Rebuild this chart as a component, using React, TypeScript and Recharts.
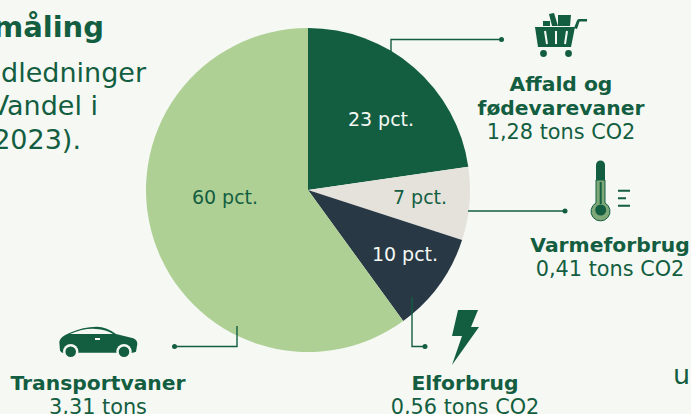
import { PieChart, Pie, Cell } from "recharts";

const categories = ["Affald og fødevarevaner", "Varmeforbrug", "Elforbrug", "Transportvaner"];
// shares, in percent
const shares = [22.7, 7.3, 10, 60];
const pctLabels = ["23 pct.", "7 pct.", "10 pct.", "60 pct."];

const COLORS = ["#135e41", "#e5e2dc", "#283845", "#afd095"];
const LABEL_COLORS = ["#f6f9f3", "#135e41", "#f6f9f3", "#135e41"];
const LABEL_POINTS = [
  [381, 119],
  [420, 197],
  [405, 254],
  [225, 197],
];

const GREEN = "#135e41";
const PAPER = "#f6f9f3";
const FONT = "'DejaVu Sans', Verdana, sans-serif";

const chartData = categories.map((name, i) => ({ name, value: shares[i] }));

const renderLabel = (props: { index?: number }) => {
  const i = props.index ?? 0;
  return (
    <text
      x={LABEL_POINTS[i][0]}
      y={LABEL_POINTS[i][1]}
      fill={LABEL_COLORS[i]}
      textAnchor="middle"
      dominantBaseline="central"
      fontSize={19}
      fontFamily={FONT}
    >
      {pctLabels[i]}
    </text>
  );
};

function Caption({ x, y, lines }: { x: number; y: number; lines: [string, boolean][] }) {
  return (
    <>
      {lines.map(([line, bold], i) => (
        <text
          key={line}
          x={x}
          y={y + i * 24}
          textAnchor="middle"
          fontSize={bold ? 20.3 : 20.8}
          fontWeight={bold ? 700 : 400}
          fill={GREEN}
          fontFamily={FONT}
        >
          {line}
        </text>
      ))}
    </>
  );
}

function Overlay() {
  return (
    <svg width={691} height={414} style={{ position: "absolute", left: 0, top: 0, pointerEvents: "none" }}>
      {/* cut-off intro text on the left */}
      <g fill={GREEN} fontFamily={FONT} textAnchor="end">
        <text x={104} y={37} fontSize={29} fontWeight={700}>måling</text>
        <text x={146} y={82} fontSize={27}>dledninger</text>
        <text x={98} y={115} fontSize={27}>Vandel i</text>
        <text x={81} y={149} fontSize={27}>2023).</text>
      </g>
      <text x={673} y={384} fontSize={27} fill={GREEN} fontFamily={FONT}>u</text>

      {/* connectors */}
      <g fill="none" stroke={GREEN} strokeWidth={1.4}>
        <path d="M391 52V39.5H501" />
        <path d="M468 211H565" />
        <path d="M412 297V346.5H425" />
        <path d="M237 326V346.5H174" />
      </g>
      <g fill={GREEN}>
        <circle cx={501.5} cy={39.5} r={2.5} />
        <circle cx={565} cy={211} r={2.5} />
        <circle cx={425} cy={346.5} r={2.5} />
        <circle cx={174.5} cy={346.5} r={2.5} />
      </g>

      {/* cart */}
      <g fill={GREEN}>
        <path d="M535 27H575L571 47H538Z" />
        <path d="M543 21H550V26H543ZM549 14L554 13L558 26H552ZM558 15H571L570 26H558Z" />
        <circle cx={543.5} cy={53.5} r={3.4} />
        <circle cx={568.5} cy={53.5} r={3.4} />
        <path d="M574 28L577 20.5Q577.5 19 579 19H587V21.5H579.5L577 29Z" />
      </g>
      <g fill="none" stroke={PAPER} strokeWidth={2}>
        <path d="M545 31L547 44M556 31V44M567 31L565 44" />
      </g>

      {/* thermometer */}
      <path d="M596 165a4.5 4.500 0 0 1 9 0V180H596Z" fill={GREEN} />
      <path d="M596 180H605V203a9.500 9.500 0 1 1 -9 0Z" fill="#7fa878" stroke={GREEN} strokeWidth={1} />
      <rect x={599.7} y={182} width={2} height={22} fill={GREEN} />
      <circle cx={600.7} cy={210} r={5.5} fill={GREEN} />
      <g stroke={GREEN} strokeWidth={2}>
        <path d="M618 190.700H630M618 198.200H626M618 205.700H630" />
      </g>

      {/* bolt */}
      <path d="M458 310H478L471 327H479L452 365L462 336H452Z" fill={GREEN} />

      {/* car */}
      <path
        d="M60 350.700L59.300 341.700Q59.500 337 70 332.700Q83 326.700 96.700 326.700Q107 327 116 334L133.300 338.300Q137.300 340 137.300 344L136 351.700L133 352.700H62Z"
        fill={GREEN}
      />
      <circle cx={70.700} cy={351.700} r={7.700} fill={PAPER} />
      <circle cx={124} cy={351.700} r={7.700} fill={PAPER} />
      <circle cx={70.700} cy={351.700} r={5.300} fill={GREEN} />
      <circle cx={124} cy={351.700} r={5.300} fill={GREEN} />
      <path d="M70 334Q84 328 96 329Q106 329.500 113 334Z" fill={PAPER} />
      <rect x={95} y={338} width={5} height={2} fill={PAPER} />

      <Caption x={561} y={90.5} lines={[["Affald og", true], ["fødevarevaner", true], ["1,28 tons CO2", false]]} />
      <Caption x={610} y={252} lines={[["Varmeforbrug", true], ["0,41 tons CO2", false]]} />
      <Caption x={465} y={389.5} lines={[["Elforbrug", true], ["0,56 tons CO2", false]]} />
      <Caption x={98} y={389.5} lines={[["Transportvaner", true], ["3,31 tons", false]]} />
    </svg>
  );
}

export default function App() {
  return (
    <div style={{ position: "absolute", left: 0, top: 0, width: 691, height: 414, background: PAPER, overflow: "hidden" }}>
      <PieChart width={691} height={414} margin={{ top: 0, right: 0, bottom: 0, left: 0 }}>
        <Pie
          data={chartData}
          dataKey="value"
          cx={308}
          cy={190}
          outerRadius={162}
          startAngle={90}
          endAngle={-270}
          stroke="none"
          labelLine={false}
          label={renderLabel}
          isAnimationActive={false}
        >
          {chartData.map((entry, index) => (
            <Cell key={entry.name} fill={COLORS[index]} />
          ))}
        </Pie>
      </PieChart>
      <Overlay />
    </div>
  );
}
